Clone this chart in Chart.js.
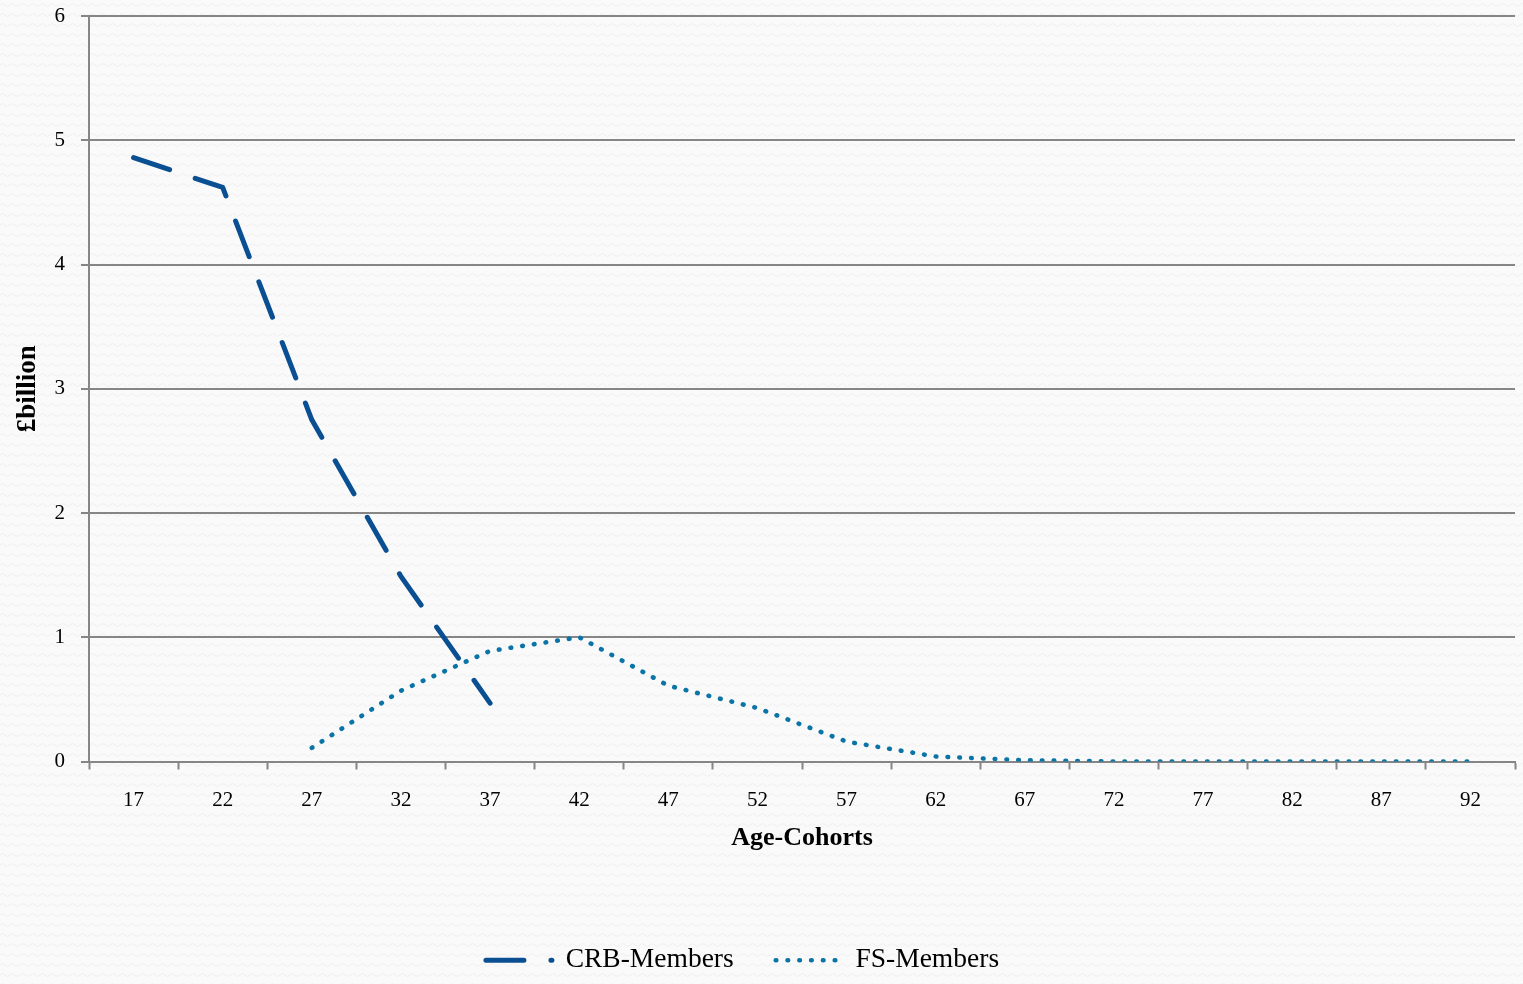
<!DOCTYPE html>
<html>
<head>
<meta charset="utf-8">
<title>CRB and FS members by age cohort</title>
<script src="https://cdn.jsdelivr.net/npm/chart.js@4/dist/chart.umd.min.js"></script>
<style>
  html, body { margin: 0; padding: 0; }
  body {
    width: 1523px; height: 984px; overflow: hidden;
    background-color: #fafafa;
    background-image: url("data:image/svg+xml;utf8,<svg xmlns='http://www.w3.org/2000/svg' width='10' height='10'><path d='M0 5 Q2.5 2 5 5 T10 5' fill='none' stroke='%23eeeeee' stroke-width='1'/></svg>");
  }
  #chart { display: block; width: 1523px; height: 984px; }
</style>
</head>
<body>
<canvas id="chart" width="1523" height="984"></canvas>
<script>
// Age cohorts (start age of each five-year band)
const ageCohorts = ['17', '22', '27', '32', '37', '42', '47', '52', '57', '62', '67', '72', '77', '82', '87', '92'];

// £ billion by cohort
const crbMembers = [4.86, 4.62, 2.75, 1.49, 0.47, null, null, null, null, null, null, null, null, null, null, null];
const fsMembers  = [null, null, 0.11, 0.57, 0.89, 1.00, 0.61, 0.43, 0.16, 0.04, 0.01, 0, 0, 0, 0, 0];

const yTicks = [0, 1, 2, 3, 4, 5, 6];

const SERIF = '"Liberation Serif", "DejaVu Serif", serif';
const AXIS_GREY = '#868686';

// nudges the centred legend row a little to the left
const legendShift = {
  id: 'legendShift',
  afterLayout(chart) {
    const lg = chart.legend;
    if (lg) { lg.left -= 15; lg.right -= 15; }
  }
};

new Chart(document.getElementById('chart'), {
  type: 'line',
  data: {
    labels: ageCohorts,
    datasets: [
      {
        label: 'CRB-Members',
        data: crbMembers,
        borderColor: '#0b4f93',
        backgroundColor: '#0b4f93',
        borderWidth: 5,
        borderDash: [38, 27],
        borderCapStyle: 'round',
        borderJoinStyle: 'round',
        pointRadius: 0,
        pointStyle: 'line',
        tension: 0,
        fill: false
      },
      {
        label: 'FS-Members',
        data: fsMembers,
        borderColor: '#0a74a6',
        backgroundColor: '#0a74a6',
        borderWidth: 4.6,
        borderDash: [0.6, 11.2],
        borderCapStyle: 'round',
        borderJoinStyle: 'round',
        pointRadius: 0,
        pointStyle: 'line',
        tension: 0,
        fill: false
      }
    ]
  },
  options: {
    responsive: false,
    animation: false,
    maintainAspectRatio: false,
    devicePixelRatio: 1,
    layout: { padding: { top: 16, right: 8, bottom: 0, left: 0 } },
    plugins: {
      legend: {
        display: true,
        position: 'bottom',
        align: 'center',
        labels: {
          usePointStyle: true,
          pointStyleWidth: 66,
          padding: 42,
          color: '#000',
          font: { family: SERIF, size: 27.5 },
          generateLabels(chart) {
            return chart.data.datasets.map((ds, i) => ({
              text: ds.label,
              datasetIndex: i,
              hidden: !chart.isDatasetVisible(i),
              fillStyle: ds.borderColor,
              strokeStyle: ds.borderColor,
              fontColor: '#000',
              lineWidth: ds.borderWidth,
              lineDash: ds.borderDash,
              lineDashOffset: 0,
              lineCap: ds.borderCapStyle,
              lineJoin: ds.borderJoinStyle,
              pointStyle: 'line',
              rotation: 0
            }));
          }
        }
      },
      tooltip: { enabled: false },
      title: { display: false }
    },
    scales: {
      x: {
        type: 'category',
        offset: true,
        afterFit(scale) { scale.height = 143; },
        grid: {
          display: true,
          drawOnChartArea: false,
          drawTicks: true,
          tickLength: 8,
          tickWidth: 2,
          tickColor: AXIS_GREY,
          offset: true
        },
        border: { display: true, color: AXIS_GREY, width: 2 },
        ticks: {
          color: '#000',
          padding: 18,
          maxRotation: 0,
          autoSkip: false,
          font: { family: SERIF, size: 21 }
        },
        title: {
          display: true,
          text: 'Age-Cohorts',
          color: '#000',
          font: { family: SERIF, size: 26, weight: 'bold' },
          padding: { top: 4, bottom: 51 }
        }
      },
      y: {
        min: 0,
        max: 6,
        afterFit(scale) {
          scale.width = 89;
          scale.paddingTop = 0;
          scale.paddingBottom = 0;
        },
        afterBuildTicks(scale) { scale.ticks = yTicks.map(v => ({ value: v })); },
        grid: {
          display: true,
          color: AXIS_GREY,
          lineWidth: 2,
          drawTicks: true,
          tickLength: 8,
          tickColor: AXIS_GREY
        },
        border: { display: true, color: AXIS_GREY, width: 2 },
        ticks: {
          color: '#000',
          padding: 16,
          font: { family: SERIF, size: 21 }
        },
        title: {
          display: true,
          text: '£billion',
          color: '#000',
          font: { family: SERIF, size: 27, weight: 'bold' },
          padding: { top: 12, bottom: 0 }
        }
      }
    }
  },
  plugins: [legendShift]
});
</script>
</body>
</html>
